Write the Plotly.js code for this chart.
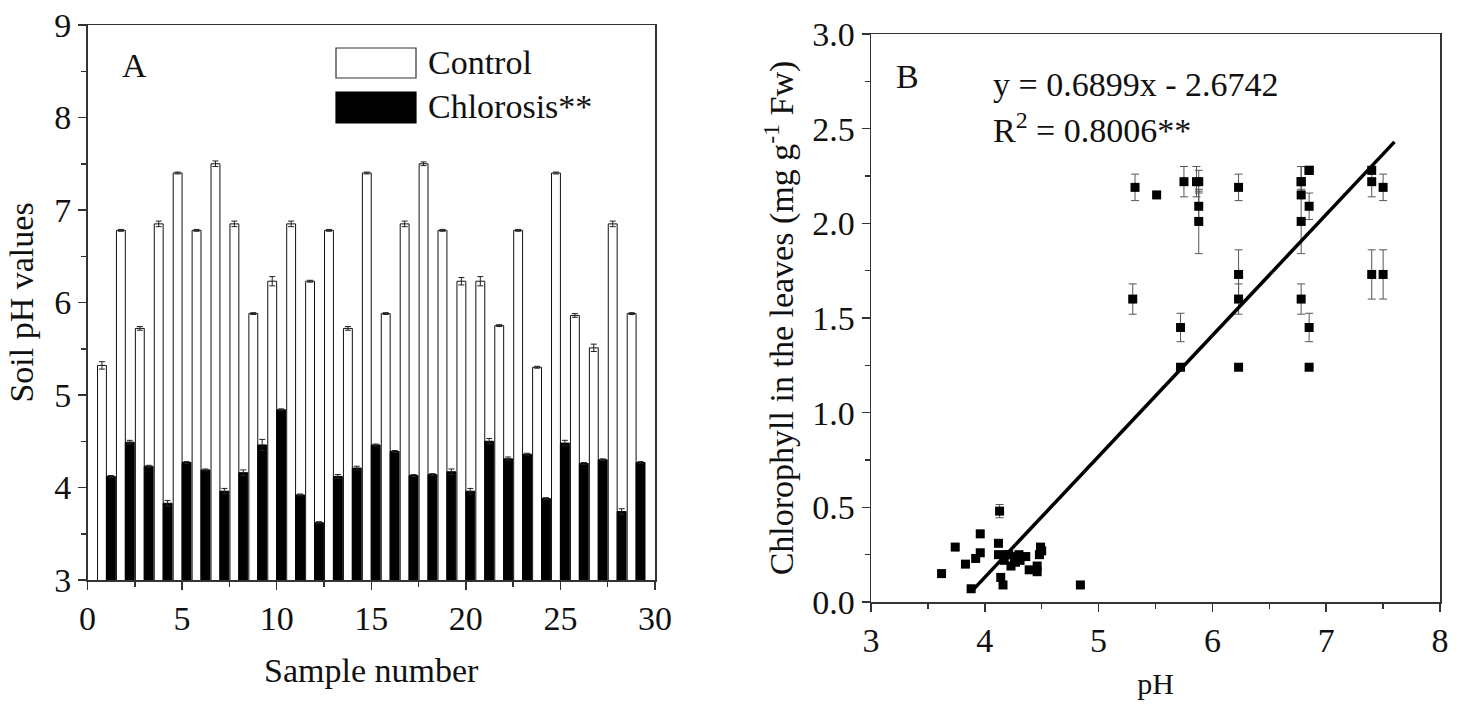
<!DOCTYPE html>
<html>
<head>
<meta charset="utf-8">
<script src="https://cdn.plot.ly/plotly-3.0.1.min.js"></script>
<style>
html,body{margin:0;padding:0;background:#fff;}
#chart{width:1466px;height:709px;}
</style>
</head>
<body>
<div id="chart"></div>
<script>
// ---------- Data ----------
const samples = [1,2,3,4,5,6,7,8,9,10,11,12,13,14,15,16,17,18,19,20,21,22,23,24,25,26,27,28,29];
const controlPH = [5.32,6.78,5.72,6.85,7.40,6.78,7.50,6.85,5.88,6.23,6.85,6.23,6.78,5.72,7.40,5.88,6.85,7.50,6.78,6.23,6.23,5.75,6.78,5.30,7.40,5.86,5.51,6.85,5.88];
const controlPHErr = [0.04,0.01,0.02,0.03,0.01,0.01,0.03,0.03,0.01,0.05,0.03,0.01,0.01,0.02,0.01,0.01,0.03,0.02,0.01,0.04,0.05,0.01,0.01,0.01,0.01,0.02,0.04,0.03,0.01];
const chlorosisPH = [4.12,4.49,4.23,3.83,4.27,4.19,3.96,4.16,4.46,4.84,3.92,3.62,4.12,4.21,4.46,4.39,4.13,4.14,4.17,3.96,4.50,4.31,4.36,3.88,4.48,4.26,4.30,3.74,4.27];
const chlorosisPHErr = [0.01,0.02,0.01,0.03,0.01,0.01,0.03,0.03,0.06,0.01,0.01,0.01,0.02,0.02,0.01,0.01,0.01,0.01,0.03,0.03,0.03,0.02,0.01,0.01,0.03,0.01,0.01,0.03,0.01];

// Chlorophyll (mg g-1 Fw) for the same samples
const controlChl = [2.19,2.22,1.45,2.28,2.28,2.15,2.19,2.09,2.09,2.19,1.45,1.73,2.01,1.24,2.22,2.01,1.24,1.73,1.60,1.60,1.24,2.22,2.22,1.60,1.73,2.22,2.15,2.28,2.22];
const controlChlErr = [0.07,0.08,0.075,0.02,0.02,0,0.07,0.07,0.08,0.07,0.075,0.13,0.17,0,0.08,0.17,0,0.13,0.08,0.08,0,0.08,0.08,0.08,0.13,0.08,0,0.02,0.06];
const chlorosisChl = [0.31,0.29,0.19,0.20,0.21,0.25,0.36,0.09,0.16,0.09,0.23,0.15,0.25,0.25,0.19,0.17,0.48,0.13,0.22,0.26,0.27,0.22,0.24,0.07,0.25,0.22,0.25,0.29,0.24];
const chlorosisChlErr = [0.01,0.01,0.01,0.01,0.01,0.01,0.01,0.01,0.02,0.01,0.01,0.01,0.01,0.01,0.01,0.01,0.035,0.02,0.01,0.01,0.01,0.01,0.01,0.01,0.01,0.01,0.01,0.01,0.01];

// Fitted line as drawn (end points)
const trendX = [3.89, 7.60];
const trendY = [0.06, 2.43];

const xTicksA = [0,5,10,15,20,25,30];
const yTicksA = [3,4,5,6,7,8,9];
const xTicksB = [3,4,5,6,7,8];
const yTicksB = [0,0.5,1.0,1.5,2.0,2.5,3.0];

const seriesNames = ['Control','Chlorosis**'];
const eqText = 'y = 0.6899x - 2.6742';
const r2Text = 'R<sup>2</sup> = 0.8006**';

// ---------- Layout helpers ----------
const W = 1466, H = 709;
const px = v => v / W;
const py = v => 1 - v / H;
const FONT = 'Liberation Serif, Times New Roman, serif';
const FS = 34;
const AXC = '#333';

const errStyle = (arr, col) => ({type:'data', array:arr, visible:true, color:col, thickness:1, width:3});

const traces = [
  {type:'bar', name:seriesNames[0], x:samples, y:controlPH, xaxis:'x', yaxis:'y',
   marker:{color:'#ffffff', line:{color:'#111', width:1}},
   error_y:errStyle(controlPHErr,'#222'), showlegend:false},
  {type:'bar', name:seriesNames[1], x:samples, y:chlorosisPH, xaxis:'x', yaxis:'y',
   marker:{color:'#000000', line:{color:'#000', width:1}},
   error_y:errStyle(chlorosisPHErr,'#222'), showlegend:false},
  {type:'scatter', mode:'markers', x:controlPH, y:controlChl, xaxis:'x2', yaxis:'y2',
   marker:{symbol:'square', size:9, color:'#000'},
   error_y:{type:'data', array:controlChlErr, visible:true, color:'#555', thickness:1, width:4}, showlegend:false},
  {type:'scatter', mode:'markers', x:chlorosisPH, y:chlorosisChl, xaxis:'x2', yaxis:'y2',
   marker:{symbol:'square', size:9, color:'#000'},
   error_y:{type:'data', array:chlorosisChlErr, visible:true, color:'#555', thickness:1, width:4}, showlegend:false},
  {type:'scatter', mode:'lines', x:trendX, y:trendY, xaxis:'x2', yaxis:'y2',
   line:{color:'#000', width:3.5}, showlegend:false}
];

const axisBase = {
  showline:true, linecolor:AXC, linewidth:1.5, mirror:true,
  ticks:'outside', ticklen:8, tickwidth:1.5, tickcolor:AXC,
  showgrid:false, zeroline:false, fixedrange:true,
  tickfont:{family:FONT, size:FS, color:'#111'}
};

const layout = {
  width:W, height:H,
  margin:{l:0, r:0, t:0, b:0},
  paper_bgcolor:'#fff', plot_bgcolor:'#fff',
  font:{family:FONT, size:FS, color:'#111'},
  barmode:'group', bargap:0.06, bargroupgap:0,
  showlegend:false,
  xaxis:Object.assign({}, axisBase, {
    domain:[px(87.5), px(655)], range:[0,30], anchor:'y',
    tickmode:'array', tickvals:xTicksA,
    minor:{tickmode:'linear', tick0:0, dtick:2.5, ticks:'outside', ticklen:5, tickwidth:1.5, tickcolor:AXC, showgrid:false},
    title:{text:'Sample number', font:{family:FONT, size:FS}, standoff:22}
  }),
  yaxis:Object.assign({}, axisBase, {
    domain:[py(580), py(25)], range:[3,9], anchor:'x',
    tickmode:'array', tickvals:yTicksA,
    minor:{tickmode:'linear', tick0:3, dtick:0.5, ticks:'outside', ticklen:5, tickwidth:1.5, tickcolor:AXC, showgrid:false},
    title:{text:'Soil pH values', font:{family:FONT, size:FS}, standoff:10}
  }),
  xaxis2:Object.assign({}, axisBase, {
    domain:[px(871), px(1440)], range:[3,8], anchor:'y2',
    tickmode:'array', tickvals:xTicksB,
    minor:{tickmode:'linear', tick0:3, dtick:0.5, ticks:'outside', ticklen:5, tickwidth:1.5, tickcolor:AXC, showgrid:false},
    title:{text:'pH', font:{family:FONT, size:FS-4}, standoff:14}
  }),
  yaxis2:Object.assign({}, axisBase, {
    domain:[py(602), py(34)], range:[0,3], anchor:'x2',
    tickmode:'array', tickvals:yTicksB, tickformat:'.1f',
    minor:{tickmode:'linear', tick0:0, dtick:0.25, ticks:'outside', ticklen:5, tickwidth:1.5, tickcolor:AXC, showgrid:false},
    title:{text:'Chlorophyll in the leaves (mg g<sup>-1</sup> Fw)', font:{family:FONT, size:FS}, standoff:8}
  }),
  shapes:[
    {type:'rect', xref:'paper', yref:'paper', x0:px(336), x1:px(416), y0:py(78), y1:py(48),
     fillcolor:'#fff', line:{color:'#333', width:1.2}},
    {type:'rect', xref:'paper', yref:'paper', x0:px(336), x1:px(416), y0:py(123), y1:py(92),
     fillcolor:'#000', line:{color:'#000', width:1.2}}
  ],
  annotations:[
    {xref:'paper', yref:'paper', x:px(134), y:py(66), text:'A', showarrow:false, xanchor:'center', yanchor:'middle', font:{family:FONT, size:FS}},
    {xref:'paper', yref:'paper', x:px(426), y:py(63), text:seriesNames[0], showarrow:false, xanchor:'left', yanchor:'middle', font:{family:FONT, size:FS}},
    {xref:'paper', yref:'paper', x:px(426), y:py(107), text:seriesNames[1], showarrow:false, xanchor:'left', yanchor:'middle', font:{family:FONT, size:FS}},
    {xref:'paper', yref:'paper', x:px(907), y:py(76), text:'B', showarrow:false, xanchor:'center', yanchor:'middle', font:{family:FONT, size:FS}},
    {xref:'paper', yref:'paper', x:px(991), y:py(84), text:eqText, showarrow:false, xanchor:'left', yanchor:'middle', font:{family:FONT, size:FS}},
    {xref:'paper', yref:'paper', x:px(991), y:py(128), text:r2Text, showarrow:false, xanchor:'left', yanchor:'middle', font:{family:FONT, size:FS}}
  ]
};

Plotly.newPlot('chart', traces, layout, {displayModeBar:false, staticPlot:true});
</script>
</body>
</html>
